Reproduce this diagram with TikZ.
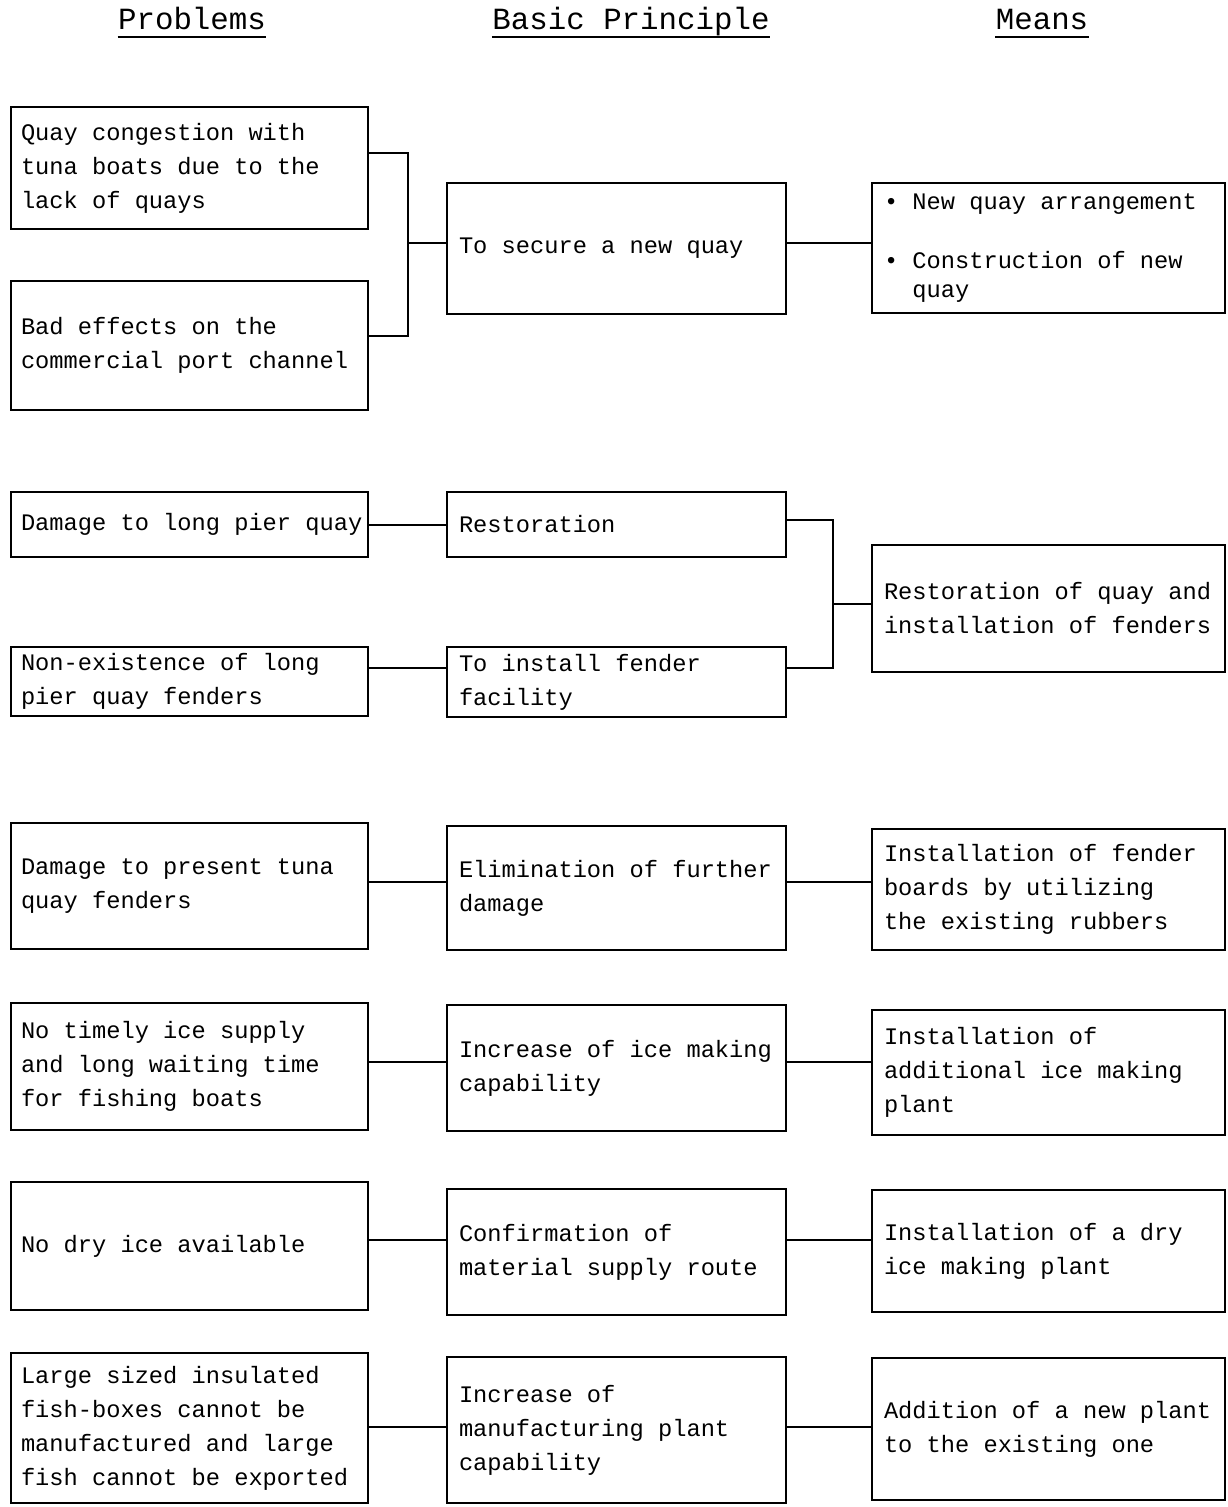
\documentclass[tikz,border=0pt]{standalone}
\usepackage{fontspec}
\setmonofont{Liberation Mono}
\usetikzlibrary{calc}
\newcommand{\bodyfont}{\ttfamily\fontsize{11.85}{17}\selectfont}
\newcommand{\headfont}{\ttfamily\fontsize{15.4}{18}\selectfont}
\newcommand{\monospace}{\spaceskip 0.6em\relax\xspaceskip 0.6em\relax}
\begin{document}
\begin{tikzpicture}[x=0.5pt,y=-0.5pt,
  every node/.style={font=\bodyfont,execute at begin node=\monospace},
  box/.style={draw,line width=1pt,align=left,inner ysep=0pt},
  pbox/.style={box,text width=168.5pt,inner xsep=5pt},
  bbox/.style={box,text width=157.5pt,inner xsep=6pt},
  mbox/.style={box,text width=164.5pt,inner xsep=6pt},
  head/.style={font=\headfont,inner sep=0pt,anchor=base},
  link/.style={line width=1pt}]
\useasboundingbox (0,0) rectangle (1227,1507);

% headings
\node[head] (h1) at (192,30) {Problems};
\node[head] (h2) at (631,30) {Basic Principle};
\node[head] (h3) at (1042,30) {Means};
\foreach \h in {h1,h2,h3}
  \draw[line width=0.9pt] ([yshift=-3.5pt]\h.base west) -- ([yshift=-3.5pt]\h.base east);

% problems
\node[pbox,minimum height=61pt] (p1) at (189.5,168) {Quay congestion with\\tuna boats due to the\\lack of quays};
\node[pbox,minimum height=64.5pt] (p2) at (189.5,345.5) {Bad effects on the\\commercial port channel};
\node[pbox,minimum height=32.5pt] (p3) at (189.5,524.5) {\mbox{Damage to long pier quay}};
\node[pbox,minimum height=34.5pt] (p4) at (189.5,681.5) {Non-existence of long\\pier quay fenders};
\node[pbox,minimum height=63pt] (p5) at (189.5,886) {Damage to present tuna\\quay fenders};
\node[pbox,minimum height=63.5pt] (p6) at (189.5,1066.5) {No timely ice supply\\and long waiting time\\for fishing boats};
\node[pbox,minimum height=64pt] (p7) at (189.5,1246) {No dry ice available};
\node[pbox,minimum height=75pt] (p8) at (189.5,1428) {Large sized insulated\\fish-boxes cannot be\\manufactured and large\\fish cannot be exported};

% basic principle
\node[bbox,minimum height=65.5pt] (b1) at (616.5,248.5) {To secure a new quay};
\node[bbox,minimum height=32.5pt] (b2) at (616.5,524.5) {Restoration};
\node[bbox,minimum height=35pt] (b3) at (616.5,682) {To install fender\\facility};
\node[bbox,minimum height=62pt] (b4) at (616.5,888) {Elimination of further\\damage};
\node[bbox,minimum height=63pt] (b5) at (616.5,1068) {Increase of ice making\\capability};
\node[bbox,minimum height=63pt] (b6) at (616.5,1252) {Confirmation of\\material supply route};
\node[bbox,minimum height=73pt] (b7) at (616.5,1430) {Increase of\\manufacturing plant\\capability};

% means
\node[mbox,minimum height=65pt] (m1) at (1048.5,248) {• New quay arrangement\\[12.5pt]• Construction of new\\[-2.5pt]\hphantom{•}\hspace{0.6em}quay};
\node[mbox,minimum height=63.5pt] (m2) at (1048.5,608.5) {Restoration of quay and\\installation of fenders};
\node[mbox,minimum height=60.5pt] (m3) at (1048.5,889.5) {Installation of fender\\boards by utilizing\\the existing rubbers};
\node[mbox,minimum height=62.5pt] (m4) at (1048.5,1072.5) {Installation of\\additional ice making\\plant};
\node[mbox,minimum height=61pt] (m5) at (1048.5,1251) {Installation of a dry\\ice making plant};
\node[mbox,minimum height=71pt] (m6) at (1048.5,1429) {Addition of a new plant\\to the existing one};

% connectors, group 1
\coordinate (j1) at (408,243);
\draw[link] ($(p1.east)+(0,-15)$) -| (j1) |- ($(p2.east)+(0,-9.5)$);
\draw[link] (j1) -- (b1.west |- j1);
\draw[link] (b1.east |- j1) -- (m1.west |- j1);

% group 2
\coordinate (r3) at (0,525);
\coordinate (r4) at (0,668);
\coordinate (j2) at (833,604);
\draw[link] (p3.east |- r3) -- (b2.west |- r3);
\draw[link] (p4.east |- r4) -- (b3.west |- r4);
\draw[link] ($(b2.east)+(0,-4.5)$) -| (j2) |- (b3.east |- r4);
\draw[link] (j2) -- (m2.west |- j2);

% rows
\coordinate (r5) at (0,882);
\coordinate (r6) at (0,1062);
\coordinate (r7) at (0,1240);
\coordinate (r8) at (0,1427);
\draw[link] (p5.east |- r5) -- (b4.west |- r5);
\draw[link] (b4.east |- r5) -- (m3.west |- r5);
\draw[link] (p6.east |- r6) -- (b5.west |- r6);
\draw[link] (b5.east |- r6) -- (m4.west |- r6);
\draw[link] (p7.east |- r7) -- (b6.west |- r7);
\draw[link] (b6.east |- r7) -- (m5.west |- r7);
\draw[link] (p8.east |- r8) -- (b7.west |- r8);
\draw[link] (b7.east |- r8) -- (m6.west |- r8);
\end{tikzpicture}
\end{document}
